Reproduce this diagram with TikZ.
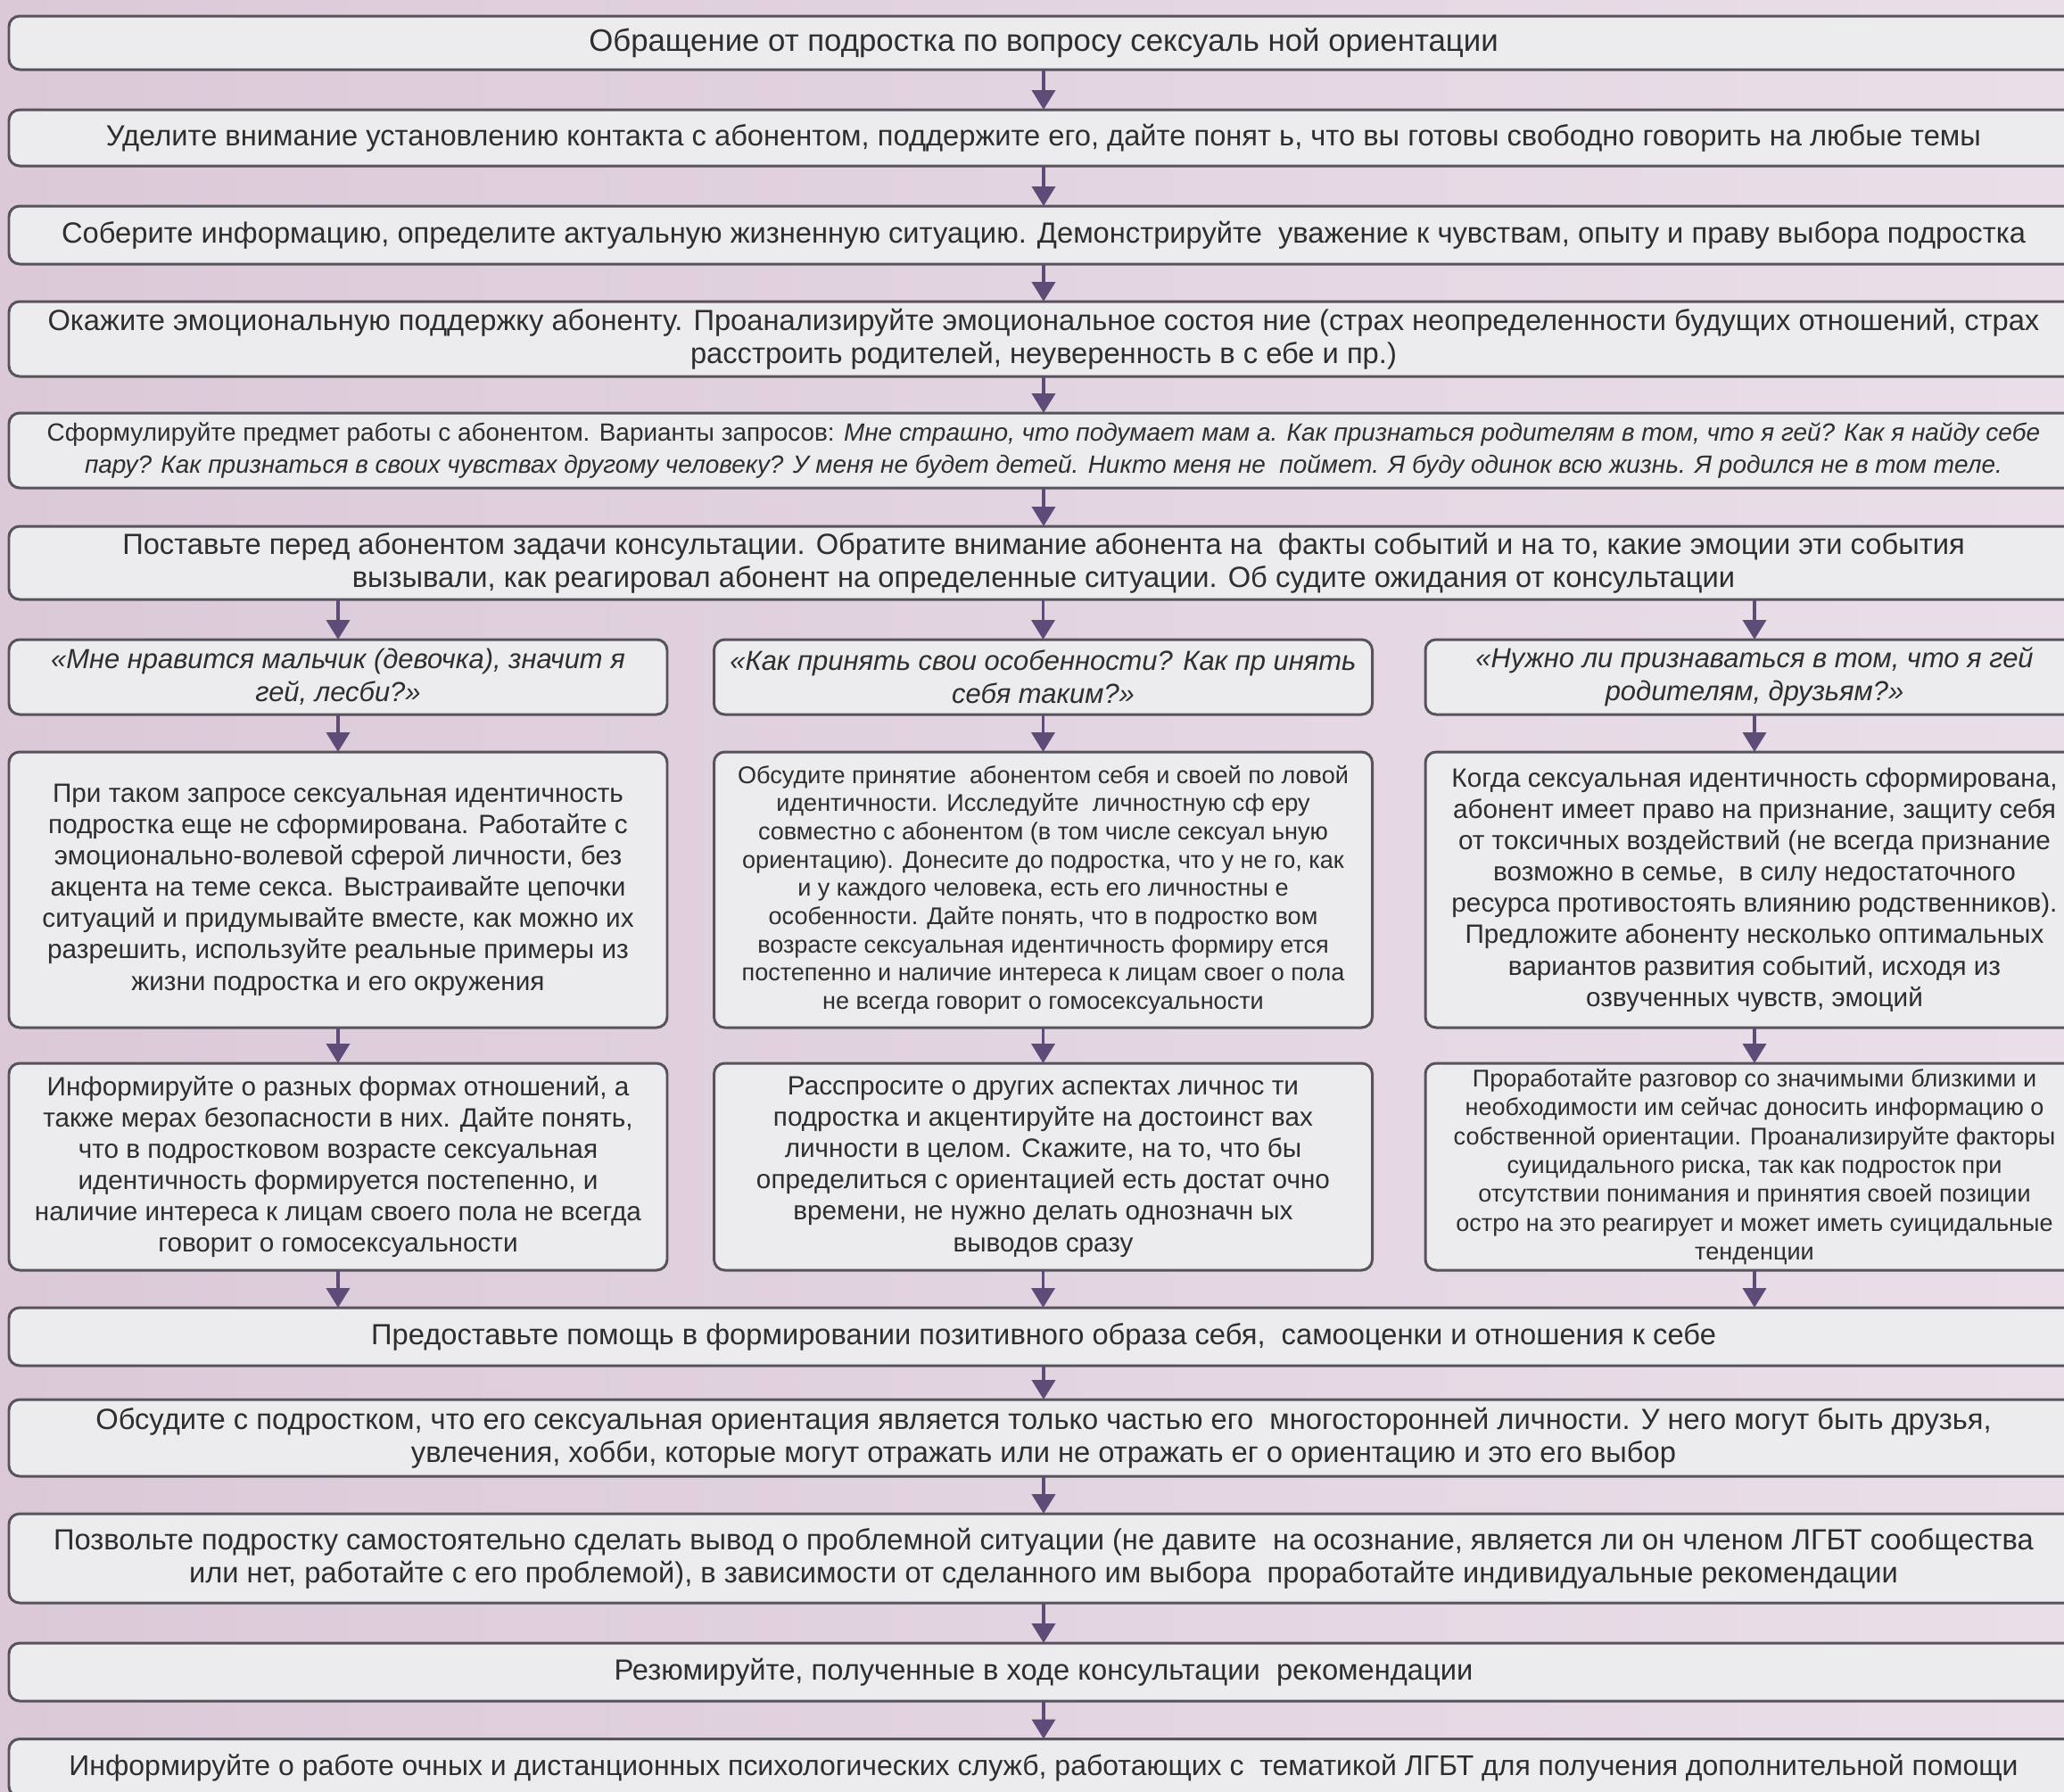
\documentclass[tikz,border=0pt]{standalone}
\usepackage{fontspec}
\setmainfont{Liberation Sans}
\usetikzlibrary{arrows.meta}
\definecolor{bgleft}{HTML}{DBC9D8}
\definecolor{bgright}{HTML}{EADFE9}
\definecolor{boxfill}{HTML}{ECEBEE}
\definecolor{boxline}{HTML}{57535D}
\definecolor{arrowcol}{HTML}{5E4B78}
\definecolor{txt}{HTML}{2E2E2E}

\begin{document}
\begin{tikzpicture}[scale=1,
    box/.style={draw=boxline, line width=0.85pt, fill=boxfill, rounded corners=0.12cm, align=center, text=txt, inner sep=0pt, outer sep=0pt, font=\fontsize{9.3}{10.5}\selectfont},
    wide/.style={box, minimum width=23.2cm},
    col/.style={box, minimum width=7.38cm},
    colquest/.style={col, font=\fontsize{8.8}{10.5}\selectfont\itshape},
    colbody/.style={col, font=\fontsize{8.45}{10}\selectfont},
    colsmall/.style={col, font=\fontsize{7.7}{9}\selectfont},
    flow/.style={draw=arrowcol, line width=1.1pt, -{Triangle[width=0.26cm,length=0.22cm]}}
]
        \useasboundingbox (0,0) rectangle (23.14,-20.08);
        \clip (0,0) rectangle (23.14,-20.08);
        \shade[left color=bgleft, right color=bgright] (0,0) rectangle (23.14,-20.08);

        \node[wide, minimum height=0.60cm, font=\fontsize{9.9}{11}\selectfont] (b1) at (11.70,-0.48) {Обращение от подростка по вопросу сексуаль ной ориентации};
        \node[wide, minimum height=0.63cm] (b2) at (11.70,-1.545) {Уделите внимание установлению контакта с абонентом, поддержите его, дайте понят ь, что вы готовы свободно говорить на любые темы};
        \node[wide, minimum height=0.65cm] (b3) at (11.70,-2.635) {Соберите информацию, определите актуальную жизненную ситуацию. Демонстрируйте~ уважение к чувствам, опыту и праву выбора подростка};
        \node[wide, minimum height=0.84cm] (b4) at (11.70,-3.80) {Окажите эмоциональную поддержку абоненту. Проанализируйте эмоциональное состоя ние (страх неопределенности будущих отношений, страх\\ расстроить родителей, неуверенность в с ебе и пр.)};
        \node[wide, minimum height=0.84cm, font=\fontsize{7.95}{10}\selectfont] (b5) at (11.70,-5.05) {Сформулируйте предмет работы с абонентом. Варианты запросов: \textit{Мне страшно, что подумает мам а. Как признаться родителям в том, что я гей? Как я найду себе}\\ \textit{пару? Как признаться в своих чувствах другому человеку? У меня не будет детей. Никто меня не~ поймет. Я буду одинок всю жизнь. Я родился не в том теле.}};
        \node[wide, minimum height=0.82cm] (b6) at (11.70,-6.31) {Поставьте перед абонентом задачи консультации. Обратите внимание абонента на~ факты событий и на то, какие эмоции эти события\\ вызывали, как реагировал абонент на определенные ситуации. Об судите ожидания от консультации};

        \node[colquest, minimum height=0.84cm] (q1) at (3.79,-7.59) {«Мне нравится мальчик (девочка), значит я\\ гей, лесби?»};
        \node[colquest, minimum height=0.84cm] (q2) at (11.695,-7.59) {«Как принять свои особенности? Как пр инять\\ себя таким?»};
        \node[colquest, minimum height=0.84cm] (q3) at (19.67,-7.59) {«Нужно ли признаваться в том, что я гей\\ родителям, друзьям?»};

        \node[colbody, minimum height=3.09cm] (s1) at (3.79,-9.975) {При таком запросе сексуальная идентичность\\ подростка еще не сформирована. Работайте с\\ эмоционально-волевой сферой личности, без\\ акцента на теме секса. Выстраивайте цепочки\\ ситуаций и придумывайте вместе, как можно их\\ разрешить, используйте реальные примеры из\\ жизни подростка и его окружения};
        \node[colsmall, minimum height=3.09cm] (s2) at (11.695,-9.975) {Обсудите принятие~ абонентом себя и своей по ловой\\ идентичности. Исследуйте~ личностную сф еру\\ совместно с абонентом (в том числе сексуал ьную\\ ориентацию). Донесите до подростка, что у не го, как\\ и у каждого человека, есть его личностны е\\ особенности. Дайте понять, что в подростко вом\\ возрасте сексуальная идентичность формиру ется\\ постепенно и наличие интереса к лицам своег о пола\\ не всегда говорит о гомосексуальности};
        \node[colbody, minimum height=3.09cm] (s3) at (19.67,-9.975) {Когда сексуальная идентичность сформирована,\\ абонент имеет право на признание, защиту себя\\ от токсичных воздействий (не всегда признание\\ возможно в семье,~ в силу недостаточного\\ ресурса противостоять влиянию родственников).\\ Предложите абоненту несколько оптимальных\\ вариантов развития событий, исходя из\\ озвученных чувств, эмоций};

        \node[colbody, minimum height=2.32cm] (t1) at (3.79,-13.08) {Информируйте о разных формах отношений, а\\ также мерах безопасности в них. Дайте понять,\\ что в подростковом возрасте сексуальная\\ идентичность формируется постепенно, и\\ наличие интереса к лицам своего пола не всегда\\ говорит о гомосексуальности};
        \node[colbody, minimum height=2.32cm] (t2) at (11.695,-13.08) {Расспросите о других аспектах личнос ти\\ подростка и акцентируйте на достоинст вах\\ личности в целом. Скажите, на то, что бы\\ определиться с ориентацией есть достат очно\\ времени, не нужно делать однозначн ых\\ выводов сразу};
        \node[col, minimum height=2.32cm, font=\fontsize{7.7}{9.2}\selectfont] (t3) at (19.67,-13.08) {Проработайте разговор со значимыми близкими и\\ необходимости им сейчас доносить информацию о\\ собственной ориентации. Проанализируйте факторы\\ суицидального риска, так как подросток при\\ отсутствии понимания и принятия своей позиции\\ остро на это реагирует и может иметь суицидальные\\ тенденции};

        \node[wide, minimum height=0.65cm] (b16) at (11.70,-14.985) {Предоставьте помощь в формировании позитивного образа себя,~ самооценки и отношения к себе};
        \node[wide, minimum height=0.86cm] (b17) at (11.70,-16.12) {Обсудите с подростком, что его сексуальная ориентация является только частью его~ многосторонней личности. У него могут быть друзья,\\ увлечения, хобби, которые могут отражать или не отражать ег о ориентацию и это его выбор};
        \node[wide, minimum height=1.00cm] (b18) at (11.70,-17.47) {Позвольте подростку самостоятельно сделать вывод о проблемной ситуации (не давите~ на осознание, является ли он членом ЛГБТ сообщества\\ или нет, работайте с его проблемой), в зависимости от сделанного им выбора~ проработайте индивидуальные рекомендации};
        \node[wide, minimum height=0.65cm] (b19) at (11.70,-18.745) {Резюмируйте, полученные в ходе консультации~ рекомендации};
        \node[wide, minimum height=0.65cm, font=\fontsize{9.1}{10.5}\selectfont] (b20) at (11.70,-19.82) {Информируйте о работе очных и дистанционных психологических служб, работающих с~ тематикой ЛГБТ для получения дополнительной помощи};

        \foreach \a/\b in {b1/b2, b2/b3, b3/b4, b4/b5, b5/b6, q1/s1, q2/s2, q3/s3, s1/t1, s2/t2, s3/t3, b16/b17, b17/b18, b18/b19, b19/b20}
            \draw[flow] (\a) -- (\b);
        \foreach \c in {q1, q2, q3}
            \draw[flow] (b6.south -| \c) -- (\c);
        \foreach \c in {t1, t2, t3}
            \draw[flow] (\c) -- (\c |- b16.north);
    \end{tikzpicture}
\end{document}
